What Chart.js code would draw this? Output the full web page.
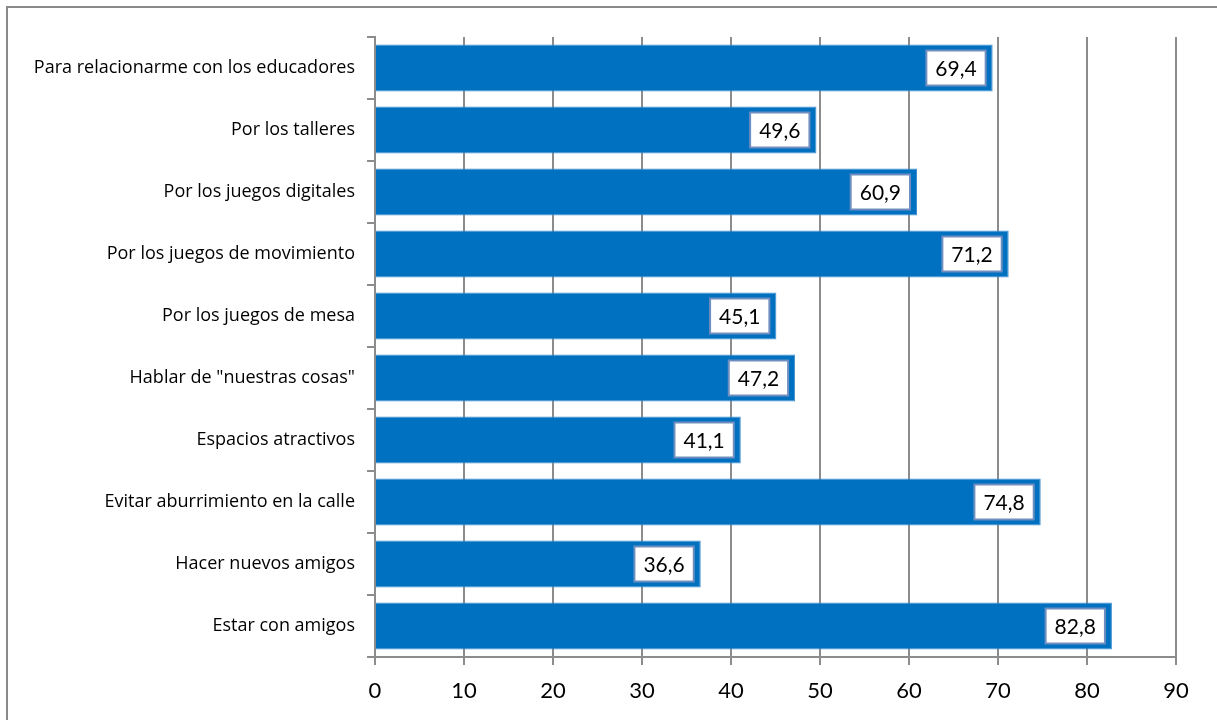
<!DOCTYPE html>
<html>
<head>
<meta charset="utf-8">
<script src="https://cdn.jsdelivr.net/npm/chart.js"></script>
<style>
  html, body { margin: 0; padding: 0; background: #fff; }
  #wrap { width: 1217px; height: 720px; }
</style>
</head>
<body>
<div id="wrap"><canvas id="chart" width="1217" height="720"></canvas></div>
<script>
// Chart data
const categories = [
    'Para relacionarme con los educadores',
    'Por los talleres',
    'Por los juegos digitales',
    'Por los juegos de movimiento',
    'Por los juegos de mesa',
    'Hablar de "nuestras cosas"',
    'Espacios atractivos',
    'Evitar aburrimiento en la calle',
    'Hacer nuevos amigos',
    'Estar con amigos'
];
const percentValues = [69.4, 49.6, 60.9, 71.2, 45.1, 47.2, 41.1, 74.8, 36.6, 82.8];
const xTicks = [0, 10, 20, 30, 40, 50, 60, 70, 80, 90];

const FONT = 'Lato, "Open Sans", sans-serif';
const LABEL_FONT = '"Open Sans", Lato, sans-serif';
const GRID = '#8c8c8c';

// Outer frame (only top and left edges are visible in the picture)
const framePlugin = {
    id: 'frame',
    beforeDraw(chart) {
        const ctx = chart.ctx;
        ctx.save();
        ctx.fillStyle = '#fff';
        ctx.fillRect(0, 0, chart.width, chart.height);
        ctx.strokeStyle = '#8a8a8a';
        ctx.lineWidth = 2;
        ctx.beginPath();
        ctx.moveTo(7, chart.height);
        ctx.lineTo(7, 7);
        ctx.lineTo(chart.width, 7);
        ctx.stroke();
        ctx.restore();
    }
};

// Value boxes at the end of each bar
const valueBoxPlugin = {
    id: 'valueBoxes',
    afterDatasetsDraw(chart) {
        const ctx = chart.ctx;
        const meta = chart.getDatasetMeta(0);
        ctx.save();
        ctx.font = '21px ' + FONT;
        ctx.textAlign = 'center';
        ctx.textBaseline = 'middle';
        meta.data.forEach((bar, i) => {
            const text = percentValues[i].toFixed(1).replace('.', ',');
            const w = ctx.measureText(text).width + 18;
            const h = 35;
            const right = bar.x - 7;
            const left = right - w;
            const top = bar.y - h / 2;
            ctx.fillStyle = '#fff';
            ctx.fillRect(left, top, w, h);
            ctx.strokeStyle = '#6f8fc0';
            ctx.lineWidth = 2;
            ctx.strokeRect(left, top, w, h);
            ctx.fillStyle = '#000';
            ctx.fillText(text, left + w / 2, bar.y + 1);
        });
        ctx.restore();
    }
};

new Chart(document.getElementById('chart'), {
    type: 'bar',
    data: {
        labels: categories,
        datasets: [{
            data: percentValues,
            backgroundColor: '#0070c0',
            borderColor: '#3d8fd0',
            borderWidth: 1,
            categoryPercentage: 1,
            barPercentage: 0.76
        }]
    },
    options: {
        indexAxis: 'y',
        responsive: false,
        animation: false,
        layout: { padding: { left: 0, right: 41, top: 37, bottom: 0 } },
        plugins: {
            legend: { display: false },
            tooltip: { enabled: false }
        },
        scales: {
            x: {
                type: 'linear',
                min: 0,
                max: 90,
                afterBuildTicks: (scale) => {
                    scale.ticks = xTicks.map(v => ({ value: v }));
                },
                afterFit: (scale) => { scale.height = 63; },
                grid: {
                    color: GRID,
                    lineWidth: 2,
                    tickLength: 8,
                    drawTicks: true
                },
                border: { color: GRID, width: 2 },
                ticks: {
                    color: '#000',
                    font: { family: FONT, size: 22 },
                    padding: 13
                }
            },
            y: {
                afterFit: (scale) => { scale.width = 375; },
                grid: {
                    offset: true,
                    drawOnChartArea: false,
                    color: GRID,
                    lineWidth: 2,
                    tickLength: 8
                },
                border: { color: GRID, width: 2 },
                ticks: {
                    color: '#000',
                    font: { family: LABEL_FONT, size: 18 },
                    padding: 12
                }
            }
        }
    },
    plugins: [framePlugin, valueBoxPlugin]
});
</script>
</body>
</html>
